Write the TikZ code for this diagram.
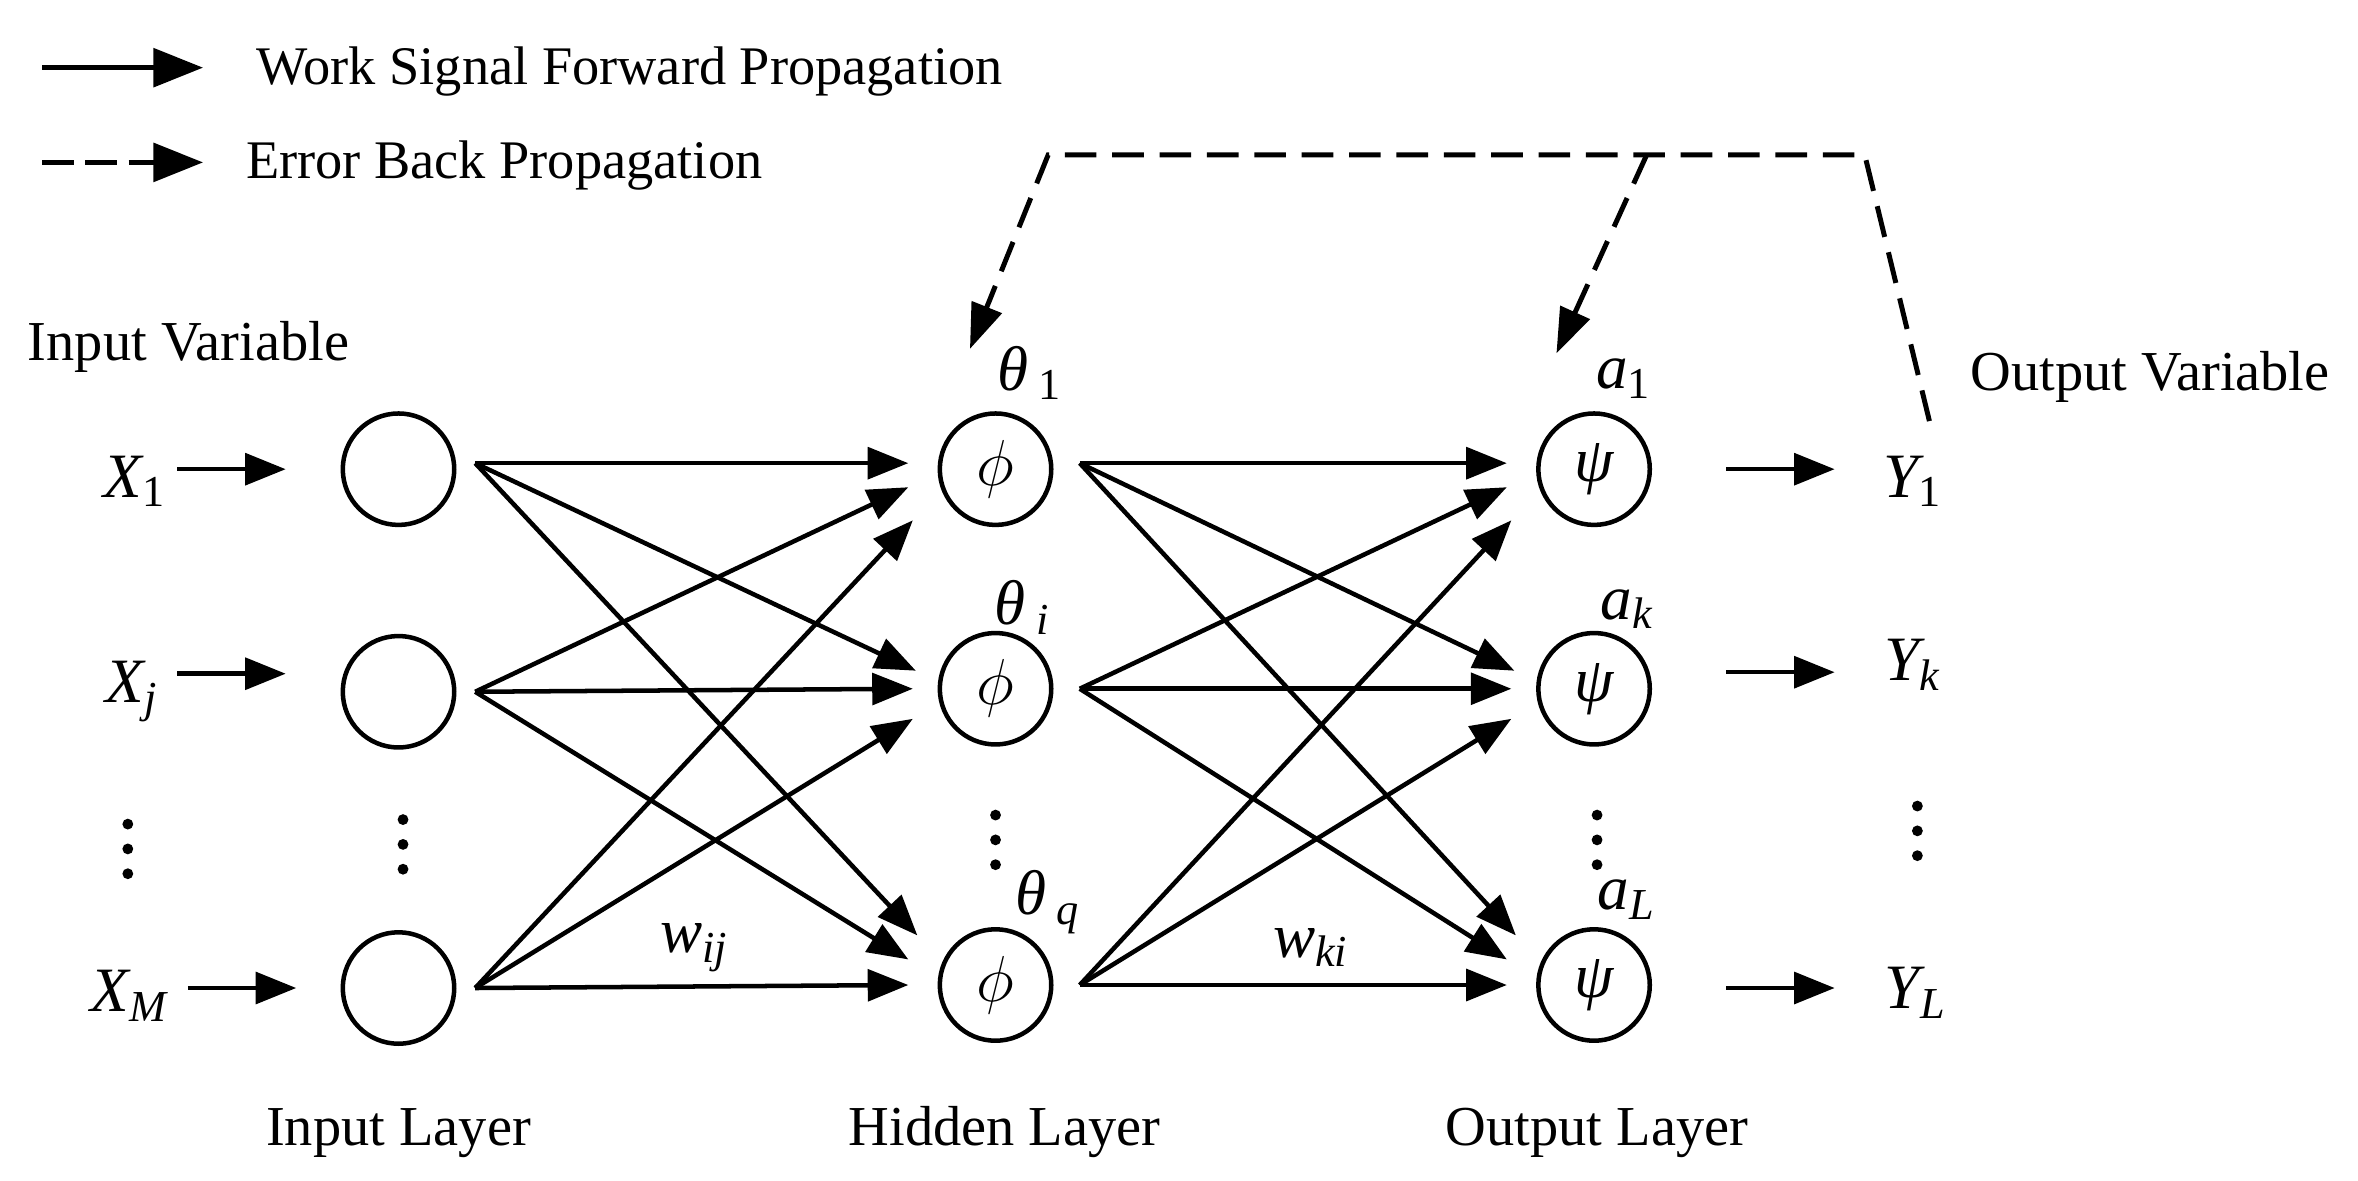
\documentclass[tikz,border=0pt]{standalone}
\usepackage{fontspec}
\setmainfont{Liberation Serif}
\usetikzlibrary{arrows.meta,calc}
\begin{document}
\begin{tikzpicture}[x=0.3333pt,y=-0.3333pt,
  neuron/.style={draw,circle,minimum size=24.7pt,inner sep=0pt,line width=1pt,font=\fontsize{14}{16}\selectfont\itshape},
  fwd/.style={line width=1pt,-{Triangle[length=9pt,width=7pt]}},
  legfwd/.style={line width=1.1pt,-{Triangle[length=11pt,width=8.5pt]}},
  bwd/.style={line width=1.1pt,dash pattern=on 7pt off 3.5pt,-{Triangle[length=10pt,width=7pt]}},
  legbwd/.style={line width=1.1pt,dash pattern=on 7pt off 2.6pt,-{Triangle[length=11pt,width=8.5pt]}},
  txt/.style={font=\fontsize{12.5}{15}\selectfont,inner sep=0pt},
  legtxt/.style={font=\fontsize{12.05}{15}\selectfont,inner sep=0pt},
  sym/.style={font=\fontsize{14}{16}\selectfont\itshape,inner sep=0pt}
]
\path[use as bounding box] (0,0) rectangle (1568,785.3);

% legend
\coordinate (l1s) at (28,45);  \coordinate (l1e) at (135,45);
\coordinate (l2s) at (28,108); \coordinate (l2e) at (135,108);
\draw[legfwd] (l1s) -- (l1e);
\draw[legbwd] (l2s) -- (l2e);
\node[legtxt,anchor=base west] (leg1) at (170,56) {Work Signal Forward Propagation};
\node[legtxt,anchor=base west] (leg2) at (163,119) {Error Back Propagation};

% headings
\node[txt,anchor=base west] (invar) at (18,240) {Input Variable};
\node[txt,anchor=base west] (outvar) at (1310,260) {Output Variable};
\node[txt,anchor=base] (inlay) at (265,762) {Input Layer};
\node[txt,anchor=base] (hidlay) at (668,762) {Hidden Layer};
\node[txt,anchor=base] (outlay) at (1062,762) {Output Layer};

% neurons
\node[neuron] (i1) at (265,312) {};
\node[neuron] (i2) at (265,460) {};
\node[neuron] (i3) at (265,657) {};
\node[neuron] (h1) at (662,312) {$\phi$};
\node[neuron] (h2) at (662,458) {$\phi$};
\node[neuron] (h3) at (662,655) {$\phi$};
\node[neuron] (o1) at (1060,312) {ψ};
\node[neuron] (o2) at (1060,458) {ψ};
\node[neuron] (o3) at (1060,655) {ψ};

% input labels and arrows
\node[sym] (x1) at (90,320) {X\textsubscript{\upshape 1}};
\node[sym] (x2) at (88,460) {X\textsubscript{j}};
\node[sym] (x3) at (86,662) {X\textsubscript{M}};
\coordinate (x1s) at (118,312); \coordinate (x1e) at (190,312);
\coordinate (x2s) at (118,448); \coordinate (x2e) at (190,448);
\coordinate (x3s) at (125,657); \coordinate (x3e) at (197,657);
\draw[fwd] (x1s) -- (x1e);
\draw[fwd] (x2s) -- (x2e);
\draw[fwd] (x3s) -- (x3e);

% output labels and arrows
\node[sym] (y1) at (1272,320) {Y\textsubscript{\upshape 1}};
\node[sym] (y2) at (1272,442) {Y\textsubscript{k}};
\node[sym] (y3) at (1274,660) {Y\textsubscript{L}};
\coordinate (y1s) at (1148,312); \coordinate (y1e) at (1220,312);
\coordinate (y2s) at (1148,447); \coordinate (y2e) at (1220,447);
\coordinate (y3s) at (1148,657); \coordinate (y3e) at (1220,657);
\draw[fwd] (y1s) -- (y1e);
\draw[fwd] (y2s) -- (y2e);
\draw[fwd] (y3s) -- (y3e);

% connections
\foreach \s/\t/\dx/\dy in {1/1/-58/-4, 2/1/-58/12, 3/1/-55/34,
                           1/2/-53/-12, 2/2/-55/0, 3/2/-55/20,
                           1/3/-52/-33, 2/3/-58/-17, 3/3/-58/0}{
  \pgfmathsetmacro\sy{\s==1 ? -4 : 0}
  \draw[fwd] ($(i\s)+(51,\sy)$) -- ($(h\t)+(\dx,\dy)$);
  \draw[fwd] ($(h\s)+(56,\sy)$) -- ($(o\t)+(\dx,\dy)$);
}

% weights
\node[sym] (wij) at (462,630) {w\textsubscript{ij}};
\node[sym] (wki) at (872,630) {w\textsubscript{ki}};

% thresholds
\node[sym] (t1) at (685,248) {θ\,\textsubscript{\upshape 1}};
\node[sym] (t2) at (680,404) {θ\,\textsubscript{i}};
\node[sym] (t3) at (697,600) {θ\,\textsubscript{q}};
\node[sym] (a1) at (1080,252) {a\textsubscript{\upshape 1}};
\node[sym] (a2) at (1082,405) {a\textsubscript{k}};
\node[sym] (a3) at (1082,598) {a\textsubscript{L}};

% dots
\foreach \x/\y in {85/548, 268/545, 662/542, 1062/542, 1275/536}{
  \foreach \k in {0,1,2}{ \fill (\x,\y+16.5*\k) circle (3.6); }
}

% error back propagation
\coordinate (d0) at (1283,280);
\coordinate (d1) at (1240,103);
\coordinate (d2) at (697,103);
\coordinate (d3) at (1095,103);
\coordinate (th) at (645,232);
\coordinate (ah) at (1035,235);
\draw[bwd] (d0) -- (d1) -- (d2) -- (th);
\draw[bwd] (d3) -- (ah);
\end{tikzpicture}
\end{document}
